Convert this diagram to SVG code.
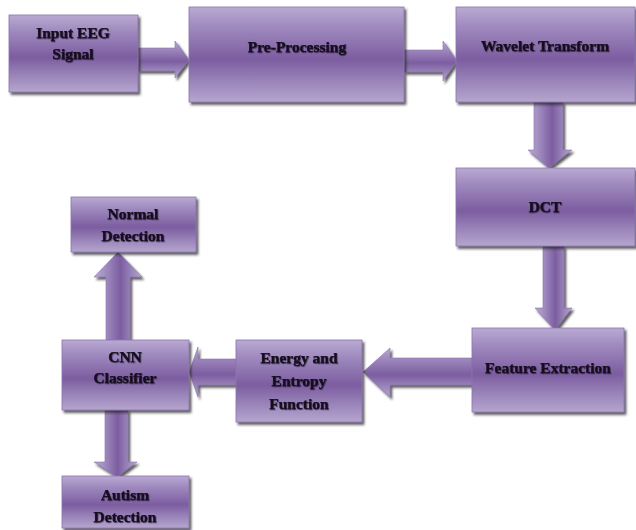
<svg xmlns="http://www.w3.org/2000/svg" width="636" height="530" viewBox="0 0 636 530">
<defs>
<linearGradient id="gv" x1="0" y1="0" x2="0" y2="1">
<stop offset="0" stop-color="#b9aad2"/>
<stop offset="0.2" stop-color="#a08bbf"/>
<stop offset="0.55" stop-color="#7c5da0"/>
<stop offset="0.8" stop-color="#9c87bb"/>
<stop offset="1" stop-color="#b5a5ce"/>
</linearGradient>
<linearGradient id="gh" x1="0" y1="0" x2="1" y2="0">
<stop offset="0" stop-color="#b9aad2"/>
<stop offset="0.25" stop-color="#a08bbf"/>
<stop offset="0.55" stop-color="#7c5da0"/>
<stop offset="0.8" stop-color="#9c87bb"/>
<stop offset="1" stop-color="#b5a5ce"/>
</linearGradient>
<filter id="sh" x="-10%" y="-10%" width="125%" height="130%">
<feDropShadow dx="2" dy="2.5" stdDeviation="0.8" flood-color="#2a2a2a" flood-opacity="0.75"/>
</filter>
<filter id="ts" x="-5%" y="-20%" width="115%" height="150%">
<feDropShadow dx="0.6" dy="0.8" stdDeviation="0.4" flood-color="#1a0f28" flood-opacity="0.7"/>
</filter>
</defs>
<style>
.box{fill:url(#gv);stroke:#8c74ae;stroke-width:0.8;filter:url(#sh)}
.ah{fill:url(#gv);stroke:#8c74ae;stroke-width:0.6;filter:url(#sh)}
.av{fill:url(#gh);stroke:#8c74ae;stroke-width:0.6;filter:url(#sh)}
text{font-family:"Liberation Serif","DejaVu Serif",serif;font-weight:bold;font-size:15.5px;fill:#140a1c;stroke:#140a1c;stroke-width:0.25;text-anchor:middle;filter:url(#ts)}
</style>
<rect width="636" height="530" fill="#ffffff"/>
<g id="connectors">
<path class="ah" d="M138,48 L175,48 L175,41 L189,60 L175,78 L175,71 L138,71 Z"/>
<path class="ah" d="M404,50 L443,50 L443,41 L457,61 L443,81 L443,72 L404,72 Z"/>
<path class="av" d="M534,102 L563,102 L563,150 L572,150 L549,168 L528,150 L534,150 Z"/>
<path class="av" d="M543,246 L564,246 L564,308 L572,308 L555,330 L535,308 L543,308 Z"/>
<path class="ah" d="M472,358 L390,358 L390,348 L363,372 L390,397 L390,385 L472,385 Z"/>
<path class="ah" d="M236,359 L198,359 L198,347 L189,372 L198,397 L198,385 L236,385 Z"/>
<path class="av" d="M106,340 L130,340 L130,277 L142,277 L118,252 L94,277 L106,277 Z"/>
<path class="av" d="M105,410 L128,410 L128,462 L137,462 L117,477 L94,462 L105,462 Z"/>
</g>
<g id="input-eeg">
<rect class="box" x="9" y="15" width="129" height="77"/>
<text x="73" y="38">Input EEG</text>
<text x="73" y="59">Signal</text>
</g>
<g id="pre-processing">
<rect class="box" x="189" y="7" width="215" height="95"/>
<text x="297" y="52">Pre-Processing</text>
</g>
<g id="wavelet-transform">
<rect class="box" x="456" y="7" width="179" height="95"/>
<text x="545" y="51">Wavelet Transform</text>
</g>
<g id="dct">
<rect class="box" x="456" y="168" width="179" height="78"/>
<text x="545" y="212">DCT</text>
</g>
<g id="feature-extraction">
<rect class="box" x="472" y="328" width="152" height="84"/>
<text x="548" y="373">Feature Extraction</text>
</g>
<g id="energy-entropy">
<rect class="box" x="236" y="340" width="126" height="82"/>
<text x="299" y="363">Energy and</text>
<text x="299" y="386">Entropy</text>
<text x="299" y="409">Function</text>
</g>
<g id="cnn-classifier">
<rect class="box" x="62" y="340" width="127" height="70"/>
<text x="125" y="362">CNN</text>
<text x="125" y="383">Classifier</text>
</g>
<g id="normal-detection">
<rect class="box" x="71" y="197" width="125" height="55"/>
<text x="133" y="219">Normal</text>
<text x="133" y="241">Detection</text>
</g>
<g id="autism-detection">
<rect class="box" x="62" y="476" width="127" height="52"/>
<text x="125" y="500">Autism</text>
<text x="125" y="522">Detection</text>
</g>
</svg>
